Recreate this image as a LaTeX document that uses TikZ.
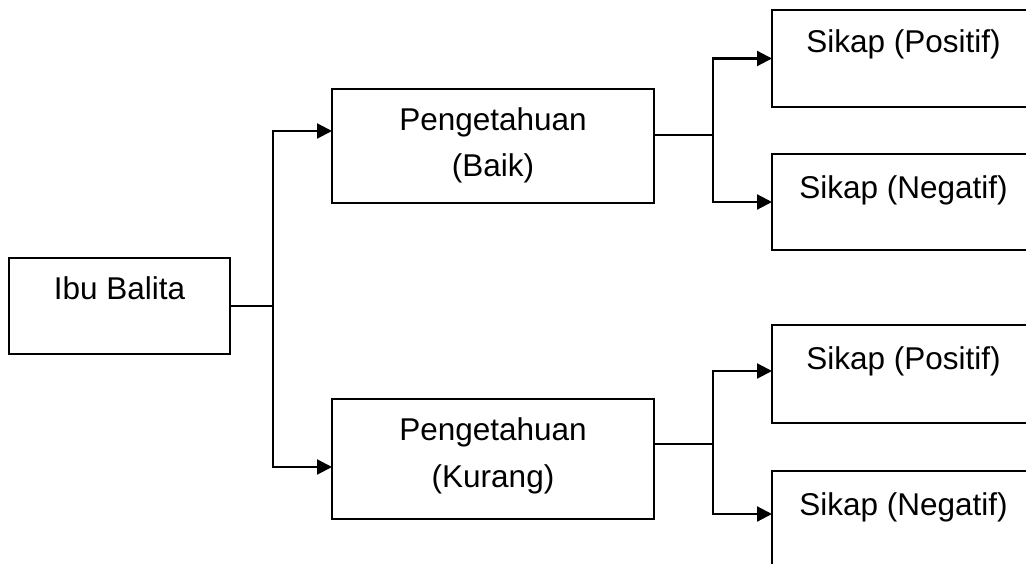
\documentclass[tikz,border=0pt]{standalone}
\usepackage{fontspec}
\setmainfont{Liberation Sans}
\usetikzlibrary{arrows.meta}
\tikzset{
  box/.style={draw, line width=2.2pt, inner sep=0pt, outer sep=0pt, fill=white},
  lbl/.style={anchor=base, align=center, inner sep=0pt,
    font=\fontsize{31.5}{46.5}\selectfont},
  link/.style={line width=2.2pt},
  arr/.style={line width=2.2pt, -{Triangle[length=15pt,width=15pt]}}
}
\begin{document}
\begin{tikzpicture}[x=1pt,y=-1pt]
\useasboundingbox (0,0) rectangle (1026,564);
\clip (0,0) rectangle (1026,564);
\fill[white] (0,0) rectangle (1026,564);

% boxes
\node[box, minimum width=221pt, minimum height=96pt]  (ibu)    at (119.5,306) {};
\node[box, minimum width=322pt, minimum height=114pt] (baik)   at (493,146)   {};
\node[box, minimum width=322pt, minimum height=120pt] (kurang) at (493,459)   {};
\node[box, minimum width=263pt, minimum height=97pt]  (sp1)    at (903.5,58.5) {};
\node[box, minimum width=263pt, minimum height=96pt]  (sn1)    at (903.5,202) {};
\node[box, minimum width=263pt, minimum height=98pt]  (sp2)    at (903.5,374) {};
\node[box, minimum width=263pt, minimum height=129pt] (sn2)    at (903.5,535.5) {};

% box texts (anchored on the baseline of the last line)
\node[lbl] (tibu) at (119.5,299) {Ibu Balita};
\node[lbl] (tbaik) at (493,177) {Pengetahuan\\(Baik)};
\node[lbl] (tkurang) at (493,487) {Pengetahuan\\(Kurang)};
\node[lbl] (tsp1) at (903.5,53) {Sikap (Positif)};
\node[lbl] (tsn1) at (903.5,199) {Sikap (Negatif)};
\node[lbl] (tsp2) at (903.5,369) {Sikap (Positif)};
\node[lbl] (tsn2) at (903.5,515) {Sikap (Negatif)};

% junctions
\coordinate (j0) at (273,306);
\coordinate (j1) at (713,135);
\coordinate (j2) at (713,444);

% connectors
\draw[link] (ibu.east) -- (j0);
\draw[arr] (j0) |- ([yshift=15pt]baik.west);
\draw[arr] (j0) |- ([yshift=-8pt]kurang.west);

\draw[link] ([yshift=11pt]baik.east) -- (j1);
\draw[arr] (j1) |- (sp1.west);
\draw[arr] (j1) |- (sn1.west);

\draw[link] ([yshift=15pt]kurang.east) -- (j2);
\draw[arr] (j2) |- ([yshift=3pt]sp2.west);
\draw[arr] (j2) |- ([yshift=21.5pt]sn2.west);
\end{tikzpicture}
\end{document}
